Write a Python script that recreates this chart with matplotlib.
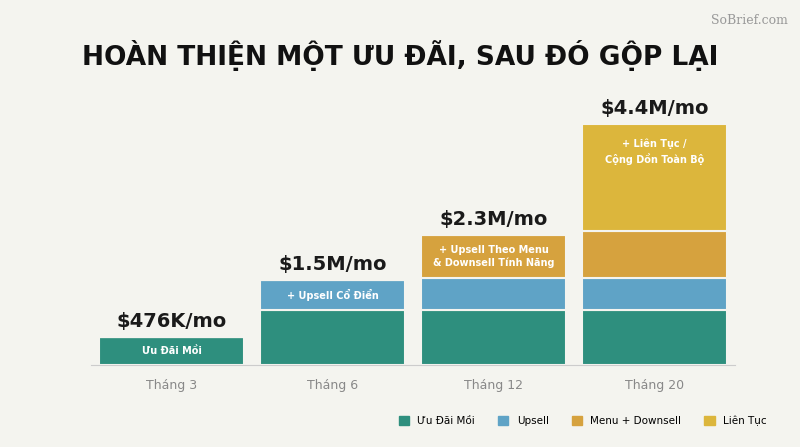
import matplotlib.pyplot as plt

months = ["Tháng 3", "Tháng 6", "Tháng 12", "Tháng 20"]
series = ["Ưu Đãi Mồi", "Upsell", "Menu + Downsell", "Liên Tục"]
colors = ["#2e8f7e", "#5fa3c6", "#d6a23e", "#dcb63c"]
# segment heights (chart units)
seg = {
    "Ưu Đãi Mồi": [28, 55, 55, 55],
    "Upsell": [0, 30, 32, 32],
    "Menu + Downsell": [0, 0, 43, 47],
    "Liên Tục": [0, 0, 0, 107],
}
totals = ["$476K/mo", "$1.5M/mo", "$2.3M/mo", "$4.4M/mo"]
inner = {
    ("Ưu Đãi Mồi", 0): "Ưu Đãi Mồi",
    ("Upsell", 1): "+ Upsell Cổ Điển",
    ("Menu + Downsell", 2): "+ Upsell Theo Menu\n& Downsell Tính Năng",
    ("Liên Tục", 3): "+ Liên Tục /\nCộng Dồn Toàn Bộ",
}
bg = "#f4f4ef"

fig = plt.figure(figsize=(8, 4.47), dpi=100, facecolor=bg)
ax = fig.add_axes([0.11375, 0.1834, 0.805, 0.593])
ax.set_facecolor(bg)
x = range(len(months))
bottom = [0] * 4
for s, c in zip(series, colors):
    ax.bar(x, seg[s], 0.9, bottom=bottom, color=c, edgecolor=bg, linewidth=1.5)
    for i in x:
        if (s, i) in inner:
            va_y = bottom[i] + seg[s][i] / 2
            if s == "Liên Tục":
                va_y = bottom[i] + seg[s][i] - 28
            ax.text(i, va_y, inner[(s, i)], ha="center", va="center",
                    color="white", fontsize=7, fontweight="bold", linespacing=1.4)
    bottom = [b + v for b, v in zip(bottom, seg[s])]
for i in x:
    ax.text(i, bottom[i] + 6, totals[i], ha="center", va="bottom",
            fontsize=14, fontweight="bold", color="#1a1a1a")
ax.set_xlim(-0.5, 3.5)
ax.set_ylim(0, 265)
ax.set_xticks(list(x))
ax.set_xticklabels(months, color="#888888", fontsize=9)
ax.tick_params(length=0, pad=10)
ax.set_yticks([])
for sp in ["top", "right", "left"]:
    ax.spines[sp].set_visible(False)
ax.spines["bottom"].set_color("#cccccc")

fig.text(0.5, 0.875, "HOÀN THIỆN MỘT ƯU ĐÃI, SAU ĐÓ GỘP LẠI", ha="center", va="center",
         fontsize=19, fontweight="bold", color="#111111")
fig.text(0.985, 0.955, "SoBrief.com", ha="right", va="center", fontsize=9,
         color="#999999", family="DejaVu Serif")

handles = [plt.Rectangle((0, 0), 1, 1, color=c) for c in colors]
fig.legend(handles, series, loc="center right", bbox_to_anchor=(0.97, 0.058), ncol=4,
           frameon=False, fontsize=7.5, handlelength=1, handleheight=1, columnspacing=2.2)
fig.savefig("out.png", facecolor=bg)
